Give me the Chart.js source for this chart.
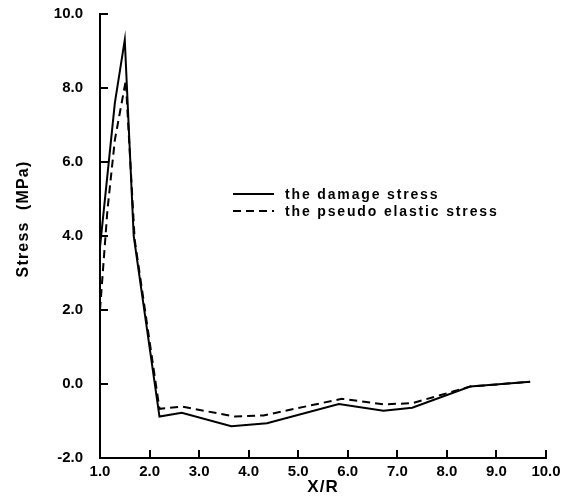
<!DOCTYPE html>
<html>
<head>
<meta charset="utf-8">
<script src="https://cdn.jsdelivr.net/npm/chart.js@4.4.0/dist/chart.umd.min.js"></script>
<style>
html,body{margin:0;padding:0;background:#fff;}
#c{display:block;}
</style>
</head>
<body>
<canvas id="c" width="563" height="500"></canvas>
<script>
// ---- data ----
const seriesLabels = ["the damage stress", "the pseudo elastic stress"];
const damageX  = [1.0, 1.3, 1.5, 1.68, 2.2, 2.65, 3.65, 4.37, 5.82, 6.72, 7.3, 8.47, 9.68];
const damageY  = [3.7, 7.6, 9.3, 4.0, -0.88, -0.78, -1.14, -1.06, -0.54, -0.72, -0.64, -0.07, 0.06];
const pseudoX  = [1.0, 1.15, 1.3, 1.52, 1.7, 2.2, 2.65, 3.72, 4.3, 5.88, 6.72, 7.3, 8.0, 8.47, 9.68];
const pseudoY  = [2.0, 4.7, 6.6, 8.2, 3.9, -0.67, -0.61, -0.88, -0.85, -0.4, -0.55, -0.52, -0.25, -0.07, 0.06];
const xTicks = [1, 2, 3, 4, 5, 6, 7, 8, 9, 10];
const yTicks = [-2, 0, 2, 4, 6, 8, 10];
const xTitle = "X/R";
const yTitle = "Stress  (MPa)";

const pts = (xs, ys) => xs.map((x, i) => ({x: x, y: ys[i]}));
const FONT = "'Liberation Sans', Arial, sans-serif";

const decorPlugin = {
  id: 'decor',
  afterDraw(chart) {
    const ctx = chart.ctx;
    const xs = chart.scales.x, ys = chart.scales.y;
    const area = chart.chartArea;
    ctx.save();
    ctx.setLineDash([]);
    ctx.strokeStyle = '#000000';
    ctx.lineWidth = 2;
    // inward tick marks
    yTicks.forEach(v => {
      const p = Math.round(ys.getPixelForValue(v));
      ctx.beginPath();
      ctx.moveTo(area.left - 1, p); ctx.lineTo(area.left + 8, p);
      ctx.stroke();
    });
    xTicks.forEach(v => {
      const p = Math.round(xs.getPixelForValue(v));
      ctx.beginPath();
      ctx.moveTo(p, area.bottom + 1); ctx.lineTo(p, area.bottom - 8);
      ctx.stroke();
    });
    // y title
    ctx.fillStyle = '#000';
    ctx.font = 'bold 16px ' + FONT;
    ctx.textAlign = 'center';
    ctx.textBaseline = 'middle';
    try { ctx.letterSpacing = '1.2px'; } catch (e) {}
    ctx.save();
    ctx.translate(24, 219);
    ctx.rotate(-Math.PI / 2);
    ctx.fillText(yTitle, 0, 0);
    ctx.restore();
    // x title
    ctx.font = 'bold 17px ' + FONT;
    try { ctx.letterSpacing = '1px'; } catch (e) {}
    ctx.fillText(xTitle, (area.left + area.right) / 2, 487);
    // legend
    ctx.font = 'bold 14px ' + FONT;
    try { ctx.letterSpacing = '1.85px'; } catch (e) {}
    ctx.textAlign = 'left';
    const rows = [194, 211];
    chart.data.datasets.forEach((ds, i) => {
      const y = rows[i];
      ctx.beginPath();
      ctx.lineWidth = 2;
      ctx.setLineDash(ds.borderDash || []);
      ctx.moveTo(233, y); ctx.lineTo(274, y);
      ctx.stroke();
      ctx.setLineDash([]);
      ctx.fillText(ds.label, 285, y + 1);
    });
    ctx.restore();
  }
};

new Chart(document.getElementById('c'), {
  type: 'line',
  data: {
    datasets: [
      { label: seriesLabels[0], data: pts(damageX, damageY), borderColor: '#000', borderWidth: 2,
        pointRadius: 0, tension: 0, fill: false },
      { label: seriesLabels[1], data: pts(pseudoX, pseudoY), borderColor: '#000', borderWidth: 2,
        borderDash: [8, 5], pointRadius: 0, tension: 0, fill: false }
    ]
  },
  options: {
    responsive: false,
    animation: false,
    devicePixelRatio: 1,
    layout: { padding: { top: 14, right: 17, left: 0, bottom: 0 } },
    plugins: { legend: { display: false }, tooltip: { enabled: false } },
    scales: {
      x: {
        type: 'linear', min: 1, max: 10,
        afterFit(s) { s.height = 42; s.paddingLeft = 0; s.paddingRight = 0; },
        afterBuildTicks(s) { s.ticks = xTicks.map(v => ({value: v})); },
        grid: { display: false, drawTicks: false },
        border: { display: true, color: '#000', width: 2 },
        ticks: { color: '#000', padding: 5, maxRotation: 0, autoSkip: false,
                 font: { family: FONT, size: 15, weight: 'bold' },
                 callback: v => Number(v).toFixed(1) }
      },
      y: {
        type: 'linear', min: -2, max: 10,
        afterFit(s) { s.width = 100; s.paddingTop = 0; s.paddingBottom = 0; },
        afterBuildTicks(s) { s.ticks = yTicks.map(v => ({value: v})); },
        grid: { display: false, drawTicks: false },
        border: { display: true, color: '#000', width: 2 },
        ticks: { color: '#000', padding: 17, autoSkip: false,
                 font: { family: FONT, size: 15, weight: 'bold' },
                 callback: v => Number(v).toFixed(1) }
      }
    }
  },
  plugins: [decorPlugin]
});
</script>
</body>
</html>
